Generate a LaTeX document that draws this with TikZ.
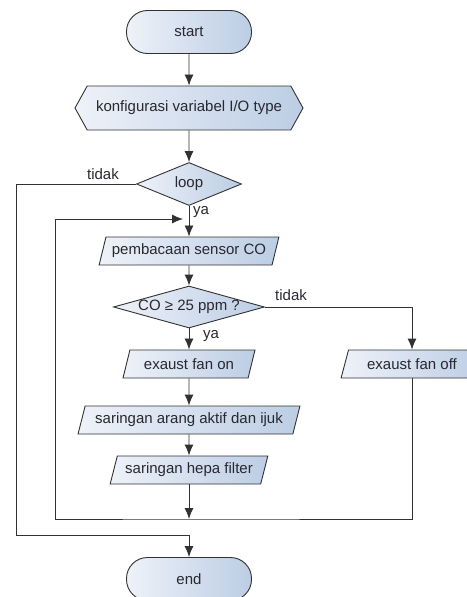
\documentclass[tikz,border=0pt]{standalone}
\usepackage{fontspec}
\setmainfont{Liberation Sans}
\usetikzlibrary{shapes.geometric, shapes.symbols, arrows.meta, positioning}

\definecolor{boxlight}{RGB}{238,242,249}
\definecolor{boxdark}{RGB}{188,205,228}
\definecolor{linegray}{RGB}{50,50,50}
\definecolor{textgray}{RGB}{40,40,48}

\begin{document}
\begin{tikzpicture}[x=1pt,y=-1pt,
  font=\fontsize{15}{17}\selectfont,text=textgray,
  box/.style={draw=linegray,line width=0.9pt,left color=boxlight,right color=boxdark,inner sep=2pt},
  term/.style={box,rectangle,rounded corners=21pt,minimum width=125pt,minimum height=43pt},
  prep/.style={box,signal,signal to=west and east,signal pointer angle=122,minimum width=228pt,minimum height=44pt},
  decide/.style={box,diamond,inner sep=0pt},
  io/.style={box,trapezium,trapezium left angle=70,trapezium right angle=110,trapezium stretches=true,minimum height=28pt},
  conn/.style={draw=linegray,line width=0.9pt},
  arr/.style={conn,-{Latex[length=11pt,width=9pt]}}]
\useasboundingbox (0,0) rectangle (466,597);

% main column
\node[term] (start) at (189,32) {start};
\node[prep] (config) at (189,108) {konfigurasi variabel I/O type};
\node[decide,aspect=2.4,minimum width=105pt,minimum height=43pt] (loop) at (189,184) {loop};
\node[io,minimum width=180pt] (sensor) at (189,251) {pembacaan sensor CO};
\node[decide,aspect=3.6,minimum width=151pt,minimum height=42pt] (co) at (189,307) {CO ≥ 25 ppm ?};
\node[io,minimum width=132pt] (fanon) at (189,364) {exaust fan on};
\node[io,minimum width=142pt] (fanoff) at (412,364) {exaust fan off};
\node[io,minimum width=222pt] (arang) at (189,420) {saringan arang aktif dan ijuk};
\node[io,minimum width=158pt] (hepa) at (189,470) {saringan hepa filter};
\node[term] (endn) at (189,579) {end};

% branch labels
\node (notloop) at (103,174) {tidak};
\node (yaloop) at (201,212) {ya};
\node (notco) at (291,295) {tidak};
\node (yaco) at (211,336) {ya};

% bend points
\coordinate (outl) at (16,184);
\coordinate (outb) at (189,535);
\coordinate (merge) at (189,519);
\coordinate (ret) at (55,519);
\coordinate (join) at (189,219);

\draw[arr] (start) -- (config);
\draw[arr] (config) -- (loop);
\draw[arr] (loop) -- (sensor);
\draw[arr] (sensor) -- (co);
\draw[arr] (co) -- (fanon);
\draw[arr] (co.east) -| (fanoff.north);
\draw[arr] (fanon) -- (arang);
\draw[arr] (arang) -- (hepa);
\draw[arr] (hepa) -- (merge);
\draw[conn] (fanoff.south) |- (merge) -- (ret);
\draw[arr,shorten >=6pt] (ret) |- (join);
\draw[arr] (loop.west) -- (outl) |- (outb) -- (endn);
\end{tikzpicture}
\end{document}
